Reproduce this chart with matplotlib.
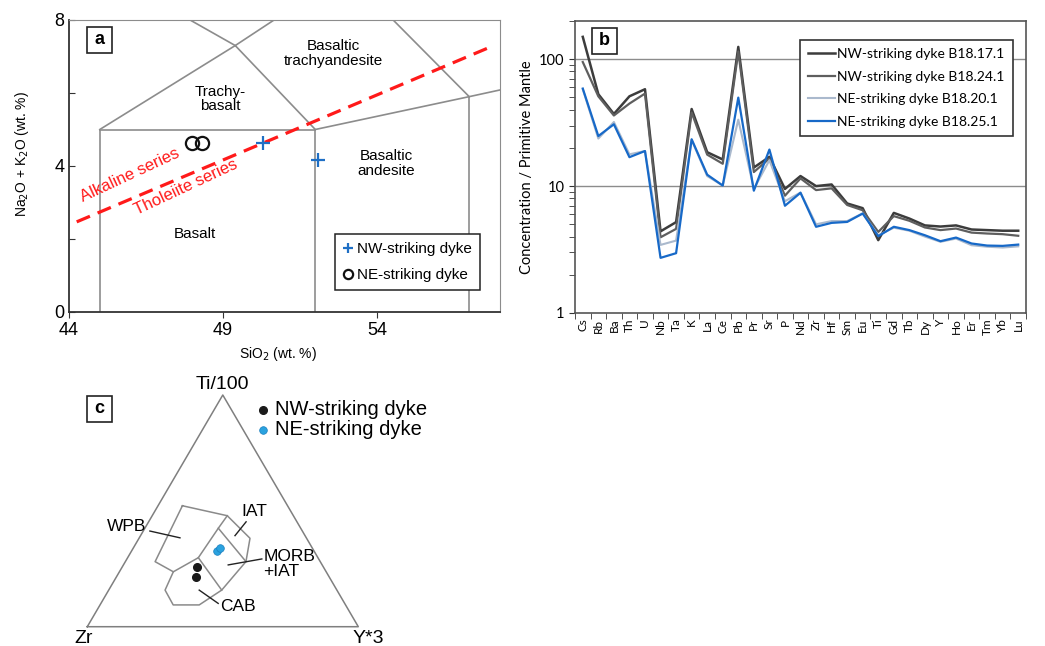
import numpy as np
import matplotlib.pyplot as plt
from matplotlib.patches import Rectangle

plt.rcParams['font.family'] = ['Liberation Sans', 'DejaVu Sans']

# ---------------- data ----------------
# (a) TAS diagram
nw_sio2 = [50.3, 52.1]
nw_alk = [4.62, 4.16]
ne_sio2 = [47.98, 48.33]
ne_alk = [4.64, 4.64]

# field boundaries (Le Bas et al.)
tas_lines = [
    ([45, 45], [0, 5]),
    ([52, 52], [0, 5]),
    ([57, 57], [0, 5.9]),
    ([45, 52], [5, 5]),
    ([45, 49.4, 52], [5, 7.3, 5]),
    ([52, 57, 63], [5, 5.9, 7]),
    ([49.4, 45], [7.3, 9.4]),
    ([49.4, 53, 57], [7.3, 9.3, 5.9]),
]
divide_sio2 = [44.25, 57.77]
divide_alk = [2.47, 7.29]

# (b) spider diagram
elements = ['Cs', 'Rb', 'Ba', 'Th', 'U', 'Nb', 'Ta', 'K', 'La', 'Ce', 'Pb', 'Pr', 'Sr', 'P',
            'Nd', 'Zr', 'Hf', 'Sm', 'Eu', 'Ti', 'Gd', 'Tb', 'Dy', 'Y', 'Ho', 'Er', 'Tm', 'Yb', 'Lu']
b18_17_1 = [150, 53, 37, 51, 58, 4.4, 5.2, 40.5, 18.5, 16.2, 125, 14.0, 17.0, 9.5, 12.0,
            10.0, 10.3, 7.3, 6.7, 3.75, 6.15, 5.55, 4.9, 4.8, 4.9, 4.55, 4.5, 4.45, 4.45]
b18_24_1 = [95, 51, 36, 44.7, 53.6, 3.95, 4.6, 38, 17.7, 15.0, 115, 12.9, 16.5, 8.4, 11.5,
            9.3, 9.6, 7.1, 6.45, 4.35, 5.8, 5.33, 4.72, 4.5, 4.63, 4.3, 4.23, 4.18, 4.06]
b18_20_1 = [58, 23.7, 32, 17.8, 18.9, 3.44, 3.72, 23.1, 12.0, 10.1, 33.4, 9.5, 16.0, 7.6, 8.9,
            5.0, 5.3, 5.3, 6.1, 4.1, 4.7, 4.45, 4.0, 3.64, 3.86, 3.42, 3.33, 3.28, 3.35]
b18_25_1 = [58.7, 24.8, 30.7, 16.9, 18.9, 2.72, 2.96, 23.4, 12.3, 10.1, 49.8, 9.2, 19.4, 7.0, 8.86,
            4.78, 5.13, 5.22, 6.08, 4.03, 4.78, 4.5, 4.1, 3.68, 3.93, 3.53, 3.4, 3.38, 3.46]

# (c) Ti-Zr-Y ternary, fractions (ti, zr, y3)
nw_ti = [0.259, 0.216]
nw_zr = [0.467, 0.492]
nw_y3 = [0.274, 0.292]
ne_ti = [0.328, 0.338]
ne_zr = [0.3585, 0.341]
ne_y3 = [0.3135, 0.3205]

field_outline = [(0.522, 0.388, 0.090), (0.479, 0.244, 0.277), (0.382, 0.209, 0.410),
                 (0.281, 0.274, 0.445), (0.158, 0.425, 0.417), (0.094, 0.540, 0.366),
                 (0.094, 0.636, 0.270), (0.158, 0.634, 0.208), (0.237, 0.564, 0.199),
                 (0.281, 0.610, 0.110), (0.522, 0.388, 0.090)]
field_inner = [
    [(0.479, 0.244, 0.277), (0.425, 0.304, 0.271), (0.298, 0.4415, 0.261), (0.237, 0.564, 0.199)],
    [(0.425, 0.304, 0.271), (0.281, 0.274, 0.445)],
    [(0.298, 0.4415, 0.261), (0.158, 0.425, 0.417)],
]

W, H = 1045, 646
fig = plt.figure(figsize=(W / 100, H / 100), dpi=100)
fig.patch.set_facecolor('white')


def label_box(cx, cy, s):
    fig.add_artist(Rectangle(((cx - 12.5) / W, 1 - (cy + 13) / H), 25 / W, 26 / H,
                             transform=fig.transFigure, fill=False, lw=1.2, ec='#222222'))
    fig.text(cx / W, 1 - cy / H, s, ha='center', va='center', fontweight='bold', fontsize=13)


# ---------------- panel a ----------------
ax = fig.add_axes([69 / W, 1 - 312 / H, 431 / W, 292 / H])
for xs, ys in tas_lines:
    ax.plot(xs, ys, color='#8c8c8c', lw=1.2)
ax.plot(divide_sio2, divide_alk, color='#ff1a1a', lw=2.3, ls=(0, (4.5, 2.6)))
ax.plot(nw_sio2, nw_alk, ls='none', marker='+', ms=10, mew=1.6, color='#1f6fc5', label='NW-striking dyke')
ax.plot(ne_sio2, ne_alk, ls='none', marker='o', ms=9.5, mew=1.6, mfc='none', mec='#111111',
        label='NE-striking dyke')
ax.set_xlim(44, 58)
ax.set_ylim(0, 8)
ax.set_xticks([44, 49, 54])
ax.set_yticks([0, 2, 4, 6, 8])
ax.set_yticklabels(['0', '', '4', '', '8'])
ax.tick_params(axis='x', direction='out', length=4, labelsize=13, color='#333333')
ax.tick_params(axis='y', direction='in', length=4, labelsize=13, color='#333333')
for side in ['top', 'right']:
    ax.spines[side].set_color('#8c8c8c')
for side in ['left', 'bottom']:
    ax.spines[side].set_color('#333333')
    ax.spines[side].set_linewidth(1.3)
ax.set_xlabel('SiO$_2$ (wt. %)', fontsize=10)
ax.xaxis.set_label_coords(0.485, -0.113)
ax.set_ylabel('Na$_2$O + K$_2$O (wt. %)', fontsize=10)
ax.yaxis.set_label_coords(-0.088, 0.54)

ax.text(52.6, 7.08, 'Basaltic\ntrachyandesite', ha='center', va='center', fontsize=11, linespacing=1.05)
ax.text(48.9, 5.84, 'Trachy-\nbasalt', ha='center', va='center', fontsize=11, linespacing=1.05)
ax.text(54.3, 4.07, 'Basaltic\nandesite', ha='center', va='center', fontsize=11, linespacing=1.05)
ax.text(48.1, 2.13, 'Basalt', ha='center', va='center', fontsize=11)
ax.text(45.98, 3.75, 'Alkaline series', ha='center', va='center', fontsize=12, color='#ff1a1a',
        rotation=25, rotation_mode='anchor')
ax.text(47.81, 3.42, 'Tholeiite series', ha='center', va='center', fontsize=12, color='#ff1a1a',
        rotation=25, rotation_mode='anchor')
leg = ax.legend(loc='upper right', bbox_to_anchor=(480 / W, 1 - 234 / H), bbox_transform=fig.transFigure,
                borderaxespad=0, fontsize=11, handlelength=0.6, handletextpad=0.3, labelspacing=0.75,
                fancybox=False, edgecolor='#222222', framealpha=1, borderpad=0.55, markerscale=0.7)
leg.get_frame().set_linewidth(1.1)
label_box(99.5, 40, 'a')

# ---------------- panel b ----------------
bx = fig.add_axes([575 / W, 1 - 313 / H, 451 / W, 292 / H])
pos = np.arange(len(elements))
bx.axhline(10, color='#8c8c8c', lw=1)
bx.axhline(100, color='#8c8c8c', lw=1)
l1, = bx.plot(pos, b18_17_1, color='#3c3c3c', lw=1.8, label='NW-striking dyke B18.17.1')
l2, = bx.plot(pos, b18_24_1, color='#5e5e5e', lw=1.6, label='NW-striking dyke B18.24.1')
l3, = bx.plot(pos, b18_20_1, color='#aab9cd', lw=1.5, label='NE-striking dyke B18.20.1')
l4, = bx.plot(pos, b18_25_1, color='#1769c8', lw=1.6, label='NE-striking dyke B18.25.1')
bx.set_yscale('log')
bx.set_ylim(1, 200)
bx.set_xlim(-0.5, len(elements) - 0.5)
bx.set_xticks(pos)
bx.set_xticklabels(elements, rotation=90, fontsize=8.5, family=['Lato', 'DejaVu Sans'])
bx.set_xticks(np.arange(len(elements) + 1) - 0.5, minor=True)
bx.tick_params(axis='x', which='major', length=0, pad=4)
bx.tick_params(axis='x', which='minor', length=4, direction='out', color='#333333')
bx.set_yticks([1, 10, 100])
bx.set_yticklabels(['1', '10', '100'], family=['Lato', 'DejaVu Sans'])
bx.tick_params(axis='y', which='both', direction='out', length=4, labelsize=10.5, color='#333333')
for side in bx.spines:
    bx.spines[side].set_color('#555555')
    bx.spines[side].set_linewidth(1.2)
bx.set_ylabel('Concentration / Primitive Mantle', fontsize=10.5, family=['Lato', 'DejaVu Sans'])
bx.yaxis.set_label_coords(-0.092, 0.5)
legb = bx.legend(handles=[l1, l2, l3, l4], loc='upper right', bbox_to_anchor=(1013 / W, 1 - 40 / H),
                 bbox_transform=fig.transFigure, borderaxespad=0, fancybox=False, edgecolor='#333333',
                 framealpha=1, handlelength=1.9, handletextpad=0.2, labelspacing=0.75, borderpad=0.6,
                 prop={'family': ['Lato', 'DejaVu Sans'], 'size': 10})
legb.get_frame().set_linewidth(1.2)
label_box(604.5, 40.7, 'b')

# ---------------- panel c ----------------
cx = fig.add_axes([60 / W, 0, 340 / W, 271 / H])
cx.set_xlim(-0.1007, 1.1539)
cx.set_ylim(-0.0712, 0.9288)
cx.axis('off')
TH = 0.855


def tern(ti, zr, y3):
    ti = np.asarray(ti, float)
    zr = np.asarray(zr, float)
    y3 = np.asarray(y3, float)
    s = ti + zr + y3
    return (y3 + ti / 2) / s, ti / s * TH


tri = np.array([(0, 1, 0), (0, 0, 1), (1, 0, 0), (0, 1, 0)], float)
tx, ty = tern(tri[:, 0], tri[:, 1], tri[:, 2])
cx.plot(tx, ty, color='#7f7f7f', lw=1.1)
fo = np.array(field_outline)
fx, fy = tern(fo[:, 0], fo[:, 1], fo[:, 2])
cx.plot(fx, fy, color='#8a8a8a', lw=1.1)
for seg in field_inner:
    sg = np.array(seg)
    sx, sy = tern(sg[:, 0], sg[:, 1], sg[:, 2])
    cx.plot(sx, sy, color='#8a8a8a', lw=1.1)

px, py = tern(nw_ti, nw_zr, nw_y3)
cx.plot(px, py, 'o', ms=5.5, color='#1a1a1a')
px, py = tern(ne_ti, ne_zr, ne_y3)
cx.plot(px, py, 'o', ms=5.5, color='#2aa2df', mec='#1b7fbf', mew=0.5)

# leader lines and field names
cx.plot([0.231, 0.342], [0.353, 0.328], color='#222222', lw=1)
cx.plot([0.545, 0.586], [0.336, 0.387], color='#222222', lw=1)
cx.plot([0.520, 0.644], [0.228, 0.250], color='#222222', lw=1)
cx.plot([0.413, 0.483], [0.135, 0.086], color='#222222', lw=1)
cx.text(0.219, 0.369, 'WPB', ha='right', va='center', fontsize=12.5)
cx.text(0.615, 0.424, 'IAT', ha='center', va='center', fontsize=12.5)
cx.text(0.649, 0.231, 'MORB\n+IAT', ha='left', va='center', fontsize=12.5, linespacing=0.95)
cx.text(0.556, 0.076, 'CAB', ha='center', va='center', fontsize=12.5)
cx.text(0.5, 0.894, 'Ti/100', ha='center', va='center', fontsize=14)
cx.text(-0.015, -0.043, 'Zr', ha='center', va='center', fontsize=14)
cx.text(1.037, -0.043, 'Y*3', ha='center', va='center', fontsize=14)

# legend c
cx.plot([0.649], [0.800], 'o', ms=5.5, color='#1a1a1a')
cx.plot([0.649], [0.726], 'o', ms=5.5, color='#2aa2df', mec='#1b7fbf', mew=0.5)
cx.text(0.692, 0.800, 'NW-striking dyke', ha='left', va='center', fontsize=14.5)
cx.text(0.692, 0.726, 'NE-striking dyke', ha='left', va='center', fontsize=14.5)
label_box(99.7, 408.5, 'c')

fig.savefig('out.png', dpi=100)
